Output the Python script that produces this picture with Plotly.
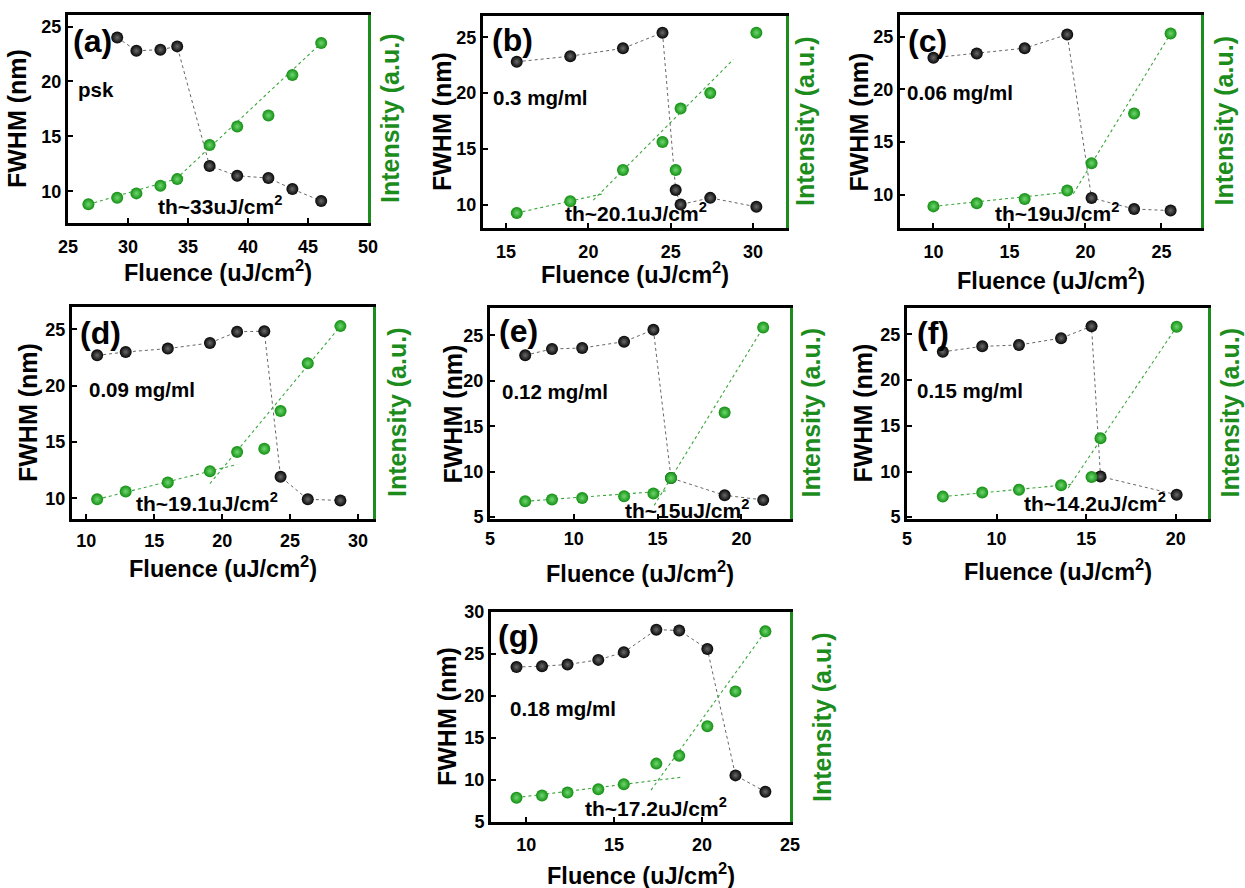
import plotly.graph_objects as go

W, H = 1245, 888

# ---------------- data ----------------
panel_labels = ['(a)', '(b)', '(c)', '(d)', '(e)', '(f)', '(g)']
samples = ['psk', '0.3 mg/ml', '0.06 mg/ml', '0.09 mg/ml', '0.12 mg/ml', '0.15 mg/ml', '0.18 mg/ml']
thresholds = ['th~33uJ/cm<sup>2</sup>', 'th~20.1uJ/cm<sup>2</sup>', 'th~19uJ/cm<sup>2</sup>',
              'th~19.1uJ/cm<sup>2</sup>', 'th~15uJ/cm<sup>2</sup>', 'th~14.2uJ/cm<sup>2</sup>',
              'th~17.2uJ/cm<sup>2</sup>']

# (a) psk
a_fl_fwhm = [29.1, 30.7, 32.7, 34.1, 36.8, 39.1, 41.7, 43.7, 46.1]
a_fwhm = [24.0, 22.8, 22.9, 23.2, 12.3, 11.4, 11.2, 10.2, 9.1]
a_fl_int = [26.7, 29.1, 30.7, 32.7, 34.1, 36.8, 39.1, 41.7, 43.7, 46.1]
a_int = [8.8, 9.4, 9.8, 10.5, 11.1, 14.2, 15.9, 16.9, 20.6, 23.5]
a_fit_lo_x, a_fit_lo_y = [26.7, 34.6], [8.8, 11.3]
a_fit_hi_x, a_fit_hi_y = [34.0, 46.1], [11.1, 23.5]

# (b) 0.3 mg/ml
b_fl_fwhm = [15.65, 18.9, 22.1, 24.5, 25.3, 25.6, 27.4, 30.2]
b_fwhm = [22.8, 23.3, 24.0, 25.4, 11.3, 10.0, 10.6, 9.8]
b_fl_int = [15.65, 18.9, 22.1, 24.5, 25.3, 25.6, 27.4, 30.2]
b_int = [9.25, 10.3, 13.1, 15.6, 13.1, 18.6, 20.0, 25.4]
b_fit_lo_x, b_fit_lo_y = [15.65, 21.0], [9.25, 11.0]
b_fit_hi_x, b_fit_hi_y = [20.3, 28.8], [10.4, 23.0]

# (c) 0.06 mg/ml
c_fl_fwhm = [10.0, 12.85, 16.0, 18.8, 20.4, 23.2, 25.6]
c_fwhm = [23.0, 23.4, 23.9, 25.2, 9.7, 8.65, 8.5]
c_fl_int = [10.0, 12.85, 16.0, 18.8, 20.4, 23.2, 25.6]
c_int = [8.9, 9.2, 9.6, 10.4, 13.0, 17.7, 25.3]
c_fit_lo_x, c_fit_lo_y = [10.0, 19.2], [8.9, 10.3]
c_fit_hi_x, c_fit_hi_y = [19.2, 25.6], [10.1, 25.3]

# (d) 0.09 mg/ml
d_fl_fwhm = [10.8, 12.9, 16.0, 19.1, 21.1, 23.1, 24.3, 26.3, 28.7]
d_fwhm = [22.7, 23.0, 23.3, 23.8, 24.8, 24.85, 11.9, 9.9, 9.8]
d_fl_int = [10.8, 12.9, 16.0, 19.1, 21.1, 23.1, 24.3, 26.3, 28.7]
d_int = [9.9, 10.6, 11.4, 12.4, 14.1, 14.4, 17.75, 22.0, 25.3]
d_fit_lo_x, d_fit_lo_y = [10.8, 21.1], [9.9, 13.0]
d_fit_hi_x, d_fit_hi_y = [19.1, 28.7], [11.3, 25.3]

# (e) 0.12 mg/ml
e_fl_fwhm = [7.1, 8.7, 10.5, 13.0, 14.75, 15.8, 19.0, 21.3]
e_fwhm = [22.8, 23.5, 23.6, 24.3, 25.6, 9.3, 7.4, 6.9]
e_fl_int = [7.1, 8.7, 10.5, 13.0, 14.75, 15.8, 19.0, 21.3]
e_int = [6.75, 6.95, 7.1, 7.3, 7.6, 9.3, 16.5, 25.85]
e_fit_lo_x, e_fit_lo_y = [7.1, 15.6], [6.75, 7.9]
e_fit_hi_x, e_fit_hi_y = [14.8, 21.3], [6.3, 25.85]

# (f) 0.15 mg/ml
f_fl_fwhm = [7.0, 9.2, 11.25, 13.6, 15.3, 15.8, 20.05]
f_fwhm = [23.1, 23.7, 23.85, 24.6, 25.9, 9.45, 7.45]
f_fl_int = [7.0, 9.2, 11.25, 13.6, 15.3, 15.8, 20.05]
f_int = [7.25, 7.7, 8.0, 8.5, 9.4, 13.65, 25.85]
f_fit_lo_x, f_fit_lo_y = [7.0, 14.2], [7.25, 8.6]
f_fit_hi_x, f_fit_hi_y = [14.0, 20.05], [8.2, 25.85]

# (g) 0.18 mg/ml
g_fl_fwhm = [9.45, 10.9, 12.35, 14.1, 15.55, 17.4, 18.7, 20.3, 21.9, 23.6]
g_fwhm = [23.45, 23.55, 23.75, 24.3, 25.2, 27.9, 27.8, 25.6, 10.55, 8.6]
g_fl_int = [9.45, 10.9, 12.35, 14.1, 15.55, 17.4, 18.7, 20.3, 21.9, 23.6]
g_int = [7.9, 8.15, 8.5, 8.9, 9.5, 11.95, 12.9, 16.4, 20.55, 27.7]
g_fit_lo_x, g_fit_lo_y = [9.45, 18.9], [7.9, 10.35]
g_fit_hi_x, g_fit_hi_y = [17.1, 23.6], [8.8, 27.7]

x_ticks = [[25, 30, 35, 40, 45, 50], [15, 20, 25, 30], [10, 15, 20, 25], [10, 15, 20, 25, 30],
           [5, 10, 15, 20], [5, 10, 15, 20], [10, 15, 20, 25]]
y_ticks = [[10, 15, 20, 25], [10, 15, 20, 25], [10, 15, 20, 25], [10, 15, 20, 25],
           [5, 10, 15, 20, 25], [5, 10, 15, 20, 25], [5, 10, 15, 20, 25, 30]]
x_ranges = [[25, 50], [13.6, 32.0], [7.8, 27.6], [8.95, 31.1], [5, 22.9], [5, 21.8], [8.0, 25.0]]
y_ranges = [[7.1, 26.06], [7.9, 26.9], [6.85, 27.05], [8.15, 27.0], [4.8, 28.0], [4.8, 27.9], [5, 30]]

panels = [
    (a_fl_fwhm, a_fwhm, a_fl_int, a_int, a_fit_lo_x, a_fit_lo_y, a_fit_hi_x, a_fit_hi_y),
    (b_fl_fwhm, b_fwhm, b_fl_int, b_int, b_fit_lo_x, b_fit_lo_y, b_fit_hi_x, b_fit_hi_y),
    (c_fl_fwhm, c_fwhm, c_fl_int, c_int, c_fit_lo_x, c_fit_lo_y, c_fit_hi_x, c_fit_hi_y),
    (d_fl_fwhm, d_fwhm, d_fl_int, d_int, d_fit_lo_x, d_fit_lo_y, d_fit_hi_x, d_fit_hi_y),
    (e_fl_fwhm, e_fwhm, e_fl_int, e_int, e_fit_lo_x, e_fit_lo_y, e_fit_hi_x, e_fit_hi_y),
    (f_fl_fwhm, f_fwhm, f_fl_int, f_int, f_fit_lo_x, f_fit_lo_y, f_fit_hi_x, f_fit_hi_y),
    (g_fl_fwhm, g_fwhm, g_fl_int, g_int, g_fit_lo_x, g_fit_lo_y, g_fit_hi_x, g_fit_hi_y),
]

# ---------------- layout geometry (pixels) ----------------
boxes = [(68, 15, 368, 223), (483, 16, 786, 228), (900, 15, 1201, 228),
         (72, 307, 373, 519), (490, 308, 790, 519), (907, 308, 1208, 519),
         (491, 612, 790, 822)]
tick_standoff = [5, 5, 5, 3, 1, 1, 4]
label_pos = [(92, 41), (512, 40), (927, 41), (100, 333), (518, 331), (933, 333), (518, 636)]
sample_pos = [(96, 89), (540, 97), (960, 92), (142, 389), (555, 392), (970, 390), (563, 708)]
thr_pos = [(220, 205), (636, 212), (1057, 212), (207, 502), (687, 509), (1095, 502), (656, 807)]
xtitle_y = [271, 273, 279, 567, 572, 570, 874]
ytitle_dx = [51, 41, 42, 44, 38, 45, 44]
rtitle_dx = [22, 19, 22, 24, 20, 21, 32]

FONT = 'Liberation Sans, Arial, sans-serif'
GREEN_AX = '#1c8c1c'


def px(x):
    return x / W


def py(y):
    return 1 - y / H


def note(text, x, y, size, color='black', angle=0):
    return dict(text=text, x=px(x), y=py(y), xref='paper', yref='paper',
                xanchor='center', yanchor='middle', showarrow=False, textangle=angle,
                font=dict(family=FONT, size=size, color=color, weight='bold'))


fig = go.Figure()
layout = dict(width=W, height=H, margin=dict(l=0, r=0, t=0, b=0, autoexpand=False),
              paper_bgcolor='white', plot_bgcolor='rgba(0,0,0,0)',
              showlegend=False, hovermode=False, annotations=[])

for i, (flf, fw, fli, it, lox, loy, hix, hiy) in enumerate(panels):
    xn = 'x' if i == 0 else f'x{i + 1}'
    yl = 'y' if i == 0 else f'y{2 * i + 1}'
    yr = f'y{2 * i + 2}'
    xk = 'xaxis' if i == 0 else f'xaxis{i + 1}'
    ylk = 'yaxis' if i == 0 else f'yaxis{2 * i + 1}'
    yrk = f'yaxis{2 * i + 2}'
    L, T, R, B = boxes[i]

    common_font = dict(family=FONT, size=18, color='black', weight='bold')
    layout[xk] = dict(domain=[px(L), px(R)], anchor=yl, range=x_ranges[i],
                      tickvals=x_ticks[i], ticks='inside', ticklen=5, tickwidth=2,
                      tickcolor='black', showline=True, linecolor='black', linewidth=3,
                      mirror=True, showgrid=False, zeroline=False, tickfont=common_font,
                      ticklabelstandoff=tick_standoff[i])
    layout[ylk] = dict(domain=[py(B), py(T)], anchor=xn, range=y_ranges[i],
                       tickvals=y_ticks[i], ticks='inside', ticklen=5, tickwidth=2,
                       tickcolor='black', showline=True, linecolor='black', linewidth=3,
                       showgrid=False, zeroline=False, tickfont=common_font)
    layout[yrk] = dict(domain=[py(B), py(T)], anchor=xn, overlaying=yl, side='right',
                       range=y_ranges[i], showticklabels=False, ticks='',
                       showline=True, linecolor=GREEN_AX, linewidth=3,
                       showgrid=False, zeroline=False)

    # black FWHM series
    fig.add_trace(go.Scatter(x=flf, y=fw, xaxis=xn, yaxis=yl, mode='lines+markers',
                             line=dict(color='#666666', width=1, dash='dot'),
                             marker=dict(size=12, color='#050505',
                                         gradient=dict(type='radial', color='#6a6a6a'))))
    # green fit lines
    for fx, fy in ((lox, loy), (hix, hiy)):
        fig.add_trace(go.Scatter(x=fx, y=fy, xaxis=xn, yaxis=yr, mode='lines',
                                 line=dict(color='#3aa63a', width=1.1, dash='dot')))
    # green intensity series
    fig.add_trace(go.Scatter(x=fli, y=it, xaxis=xn, yaxis=yr, mode='markers',
                             marker=dict(size=12, color='#128f12',
                                         gradient=dict(type='radial', color='#6fd66f'))))

    ann = layout['annotations']
    ann.append(note(panel_labels[i], label_pos[i][0], label_pos[i][1], 32))
    ann.append(note(samples[i], sample_pos[i][0], sample_pos[i][1], 20.5))
    ann.append(note(thresholds[i], thr_pos[i][0], thr_pos[i][1], 21))
    ann.append(note('Fluence (uJ/cm<sup>2</sup>)', (L + R) / 2, xtitle_y[i], 23.5))
    ann.append(note('FWHM (nm)', L - ytitle_dx[i], (T + B) / 2, 25, angle=-90))
    ann.append(note('Intensity (a.u.)', R + rtitle_dx[i], (T + B) / 2, 25,
                    color=GREEN_AX, angle=-90))

fig.update_layout(**layout)
fig.write_html('out.html')
